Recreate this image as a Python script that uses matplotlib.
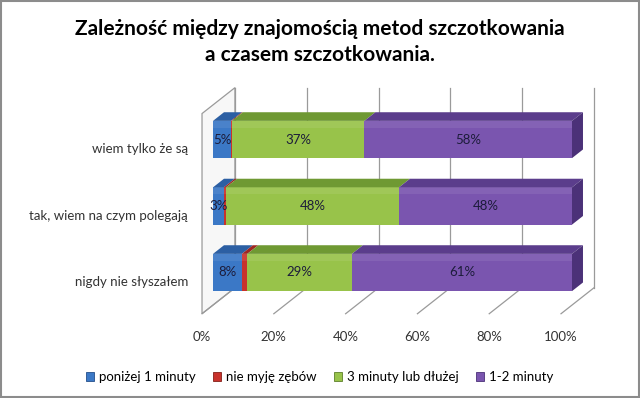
import matplotlib.pyplot as plt
from matplotlib.patches import Rectangle, Polygon, Patch

plt.rcParams["font.family"] = ["Lato", "DejaVu Sans"]

# data (bottom -> top, as drawn)
categories = ["nigdy nie słyszałem", "tak, wiem na czym polegają", "wiem tylko że są"]
series_names = ["poniżej 1 minuty", "nie myję zębów", "3 minuty lub dłużej", "1-2 minuty"]
below_1_min = [8, 3, 5]
no_brushing = [1.5, 0.6, 0.3]
three_plus = [29, 48, 37]
one_two_min = [61, 48, 58]
show_label = [True, False, True, True]
ticks = [0, 20, 40, 60, 80, 100]

front_cols = ["#3B78C6", "#C8322C", "#98C34A", "#7A55AF"]
top_cols = ["#2C5FA3", "#9E2622", "#6F9933", "#5B3D8C"]
side_cols = ["#244F8A", "#842019", "#5C8029", "#4B3178"]

series = [below_1_min, no_brushing, three_plus, one_two_min]

fig = plt.figure(figsize=(6.4, 3.98), dpi=100)
ax = fig.add_axes([213 / 640, 1 - 305.75 / 398, 359 / 640, 199.5 / 398])
ax.set_xlim(0, 100)
ax.set_ylim(-0.5, 2.5)
ax.axis("off")

# depth of one "slice" in data units
DX, DY = 3.06, 0.13
FLOOR, TOP = -0.49, 2.52
H = 0.56
grid_col = "#9A9A9A"

# left wall
ax.add_patch(Polygon([(-DX, FLOOR - DY), (2 * DX, FLOOR + 2 * DY), (2 * DX, TOP + 2 * DY), (-DX, TOP - DY)],
                     closed=True, facecolor="#F7F7F7", edgecolor=grid_col, lw=0.9, clip_on=False, zorder=1))
# back wall gridlines + floor lines
for t in ticks:
    ax.plot([t + 2 * DX, t + 2 * DX], [FLOOR + 2 * DY, TOP + 2 * DY], color=grid_col, lw=0.9, clip_on=False, zorder=1)
    ax.plot([t + 2 * DX, t - DX], [FLOOR + 2 * DY, FLOOR - DY], color=grid_col, lw=0.9, clip_on=False, zorder=1)
    ax.text(t - DX, -0.97, f"{t}%", ha="center", va="center", fontsize=9.5, color="#333333")

# bars
for i, cat in enumerate(categories):
    vals = [s[i] for s in series]
    tot = sum(vals)
    left = 0
    y0 = i - H / 2
    y1 = i + H / 2
    for k, v in enumerate(vals):
        w = v / tot * 100
        ax.add_patch(Rectangle((left, y0), w, H, facecolor=front_cols[k], edgecolor="none", zorder=3, clip_on=False))
        ax.add_patch(Rectangle((left, y1 - 0.1), w, 0.1, facecolor="white", alpha=0.08,
                               edgecolor="none", zorder=3.1, clip_on=False))
        ax.add_patch(Polygon([(left, y1), (left + w, y1), (left + w + DX, y1 + DY), (left + DX, y1 + DY)],
                             closed=True, facecolor=top_cols[k], edgecolor="none", zorder=3, clip_on=False))
        if k == len(vals) - 1:
            ax.add_patch(Polygon([(left + w, y0), (left + w + DX, y0 + DY), (left + w + DX, y1 + DY), (left + w, y1)],
                                 closed=True, facecolor=side_cols[k], edgecolor="none", zorder=3, clip_on=False))
        if show_label[k]:
            ax.text(left + w / 2, i, f"{v:.0f}%", ha="center", va="center", fontsize=9.5,
                    color="#1C1C3A", zorder=5)
        left += w
    ax.text(-6.9, i - 0.15, cat, ha="right", va="center", fontsize=9.5, color="#333333")

fig.text(0.5, 1 - 42 / 398, "Zależność między znajomością metod szczotkowania\na czasem szczotkowania.",
         ha="center", va="center", fontsize=15, fontweight="bold", linespacing=1.4)

handles = [Patch(facecolor=c, edgecolor=e, lw=0.6) for c, e in zip(front_cols, side_cols)]
fig.legend(handles, series_names, loc="center", bbox_to_anchor=(0.5, 1 - 377 / 398), ncol=4,
           frameon=False, fontsize=9.5, handlelength=0.6, handleheight=0.6, handletextpad=0.4,
           columnspacing=1.3)

fig.patches.append(Rectangle((0.002, 0.003), 0.996, 0.994, transform=fig.transFigure, fill=False,
                             edgecolor="#8C8C8C", lw=1.5))

fig.savefig("out.png", dpi=100)
